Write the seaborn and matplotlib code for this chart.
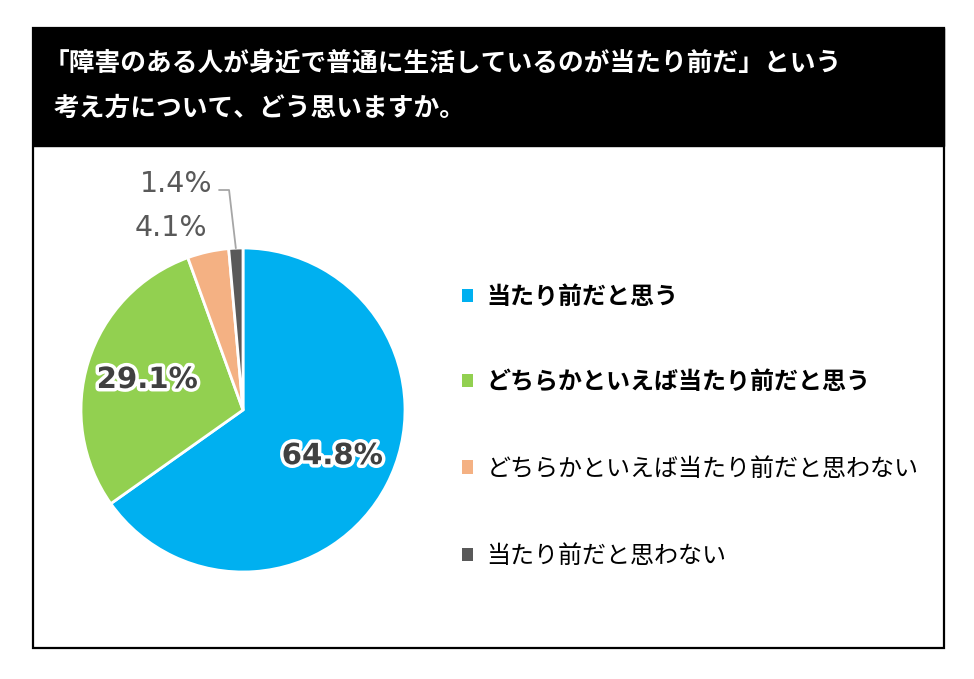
import numpy as np
import matplotlib
matplotlib.use("Agg")
import matplotlib.pyplot as plt
import matplotlib.patheffects as pe
import seaborn as sns
from matplotlib.patches import Rectangle

# ---- data ----
categories = ["当たり前だと思う", "どちらかといえば当たり前だと思う",
              "どちらかといえば当たり前だと思わない", "当たり前だと思わない"]
values = [64.8, 29.1, 4.1, 1.4]
bold_legend = [True, True, False, False]
title_lines = ["「障害のある人が身近で普通に生活しているのが当たり前だ」という",
               "考え方について、どう思いますか。"]

colors = ["#00B0F0", "#92D050", "#F4B183", "#595959"]

sns.set_theme(style="white")
plt.rcParams['font.family'] = ['Noto Sans CJK JP', 'DejaVu Sans']

W, H = 974, 679
fig = plt.figure(figsize=(W / 100, H / 100), dpi=100)
fig.patch.set_facecolor("white")

def fx(px):
    return px / W

def fy(py):
    return 1 - py / H

# frame + header
fig.patches.append(Rectangle((fx(33), fy(146)), fx(944) - fx(33), fy(28) - fy(146),
                             transform=fig.transFigure, facecolor="black",
                             edgecolor="black", zorder=0))
fig.patches.append(Rectangle((fx(33), fy(648)), fx(944) - fx(33), fy(28) - fy(648),
                             transform=fig.transFigure, facecolor="none",
                             edgecolor="black", linewidth=1.6, zorder=5))
fig.text(fx(44), fy(63), title_lines[0], color="white", fontsize=18.5,
         fontweight="bold", ha="left", va="center")
fig.text(fx(54), fy(108), title_lines[1], color="white", fontsize=18.5,
         fontweight="bold", ha="left", va="center")

# pie
cx, cy, r = 243, 410, 162
ax = fig.add_axes([fx(cx - r), fy(cy + r), 2 * r / W, 2 * r / H])
wedges, _ = ax.pie(values, colors=colors, startangle=90, counterclock=False,
                   radius=1, wedgeprops=dict(edgecolor="white", linewidth=2))
ax.set_xlim(-1, 1)
ax.set_ylim(-1, 1)
ax.axis("off")

glow = [pe.withStroke(linewidth=5, foreground="white")]
for i, w in enumerate(wedges[:2]):
    ang = np.deg2rad((w.theta1 + w.theta2) / 2)
    d = 0.62
    ax.text(d * np.cos(ang), d * np.sin(ang), f"{values[i]:.1f}%",
            ha="center", va="center", fontsize=21, fontweight="bold",
            family="DejaVu Sans", color="#404040", path_effects=glow)

# small slice labels (outside)
small_pos = {2: (-0.444, 1.123), 3: (-0.41, 1.395)}
for i, (tx, ty) in small_pos.items():
    ax.text(tx, ty, f"{values[i]:.1f}%", ha="center", va="center",
            fontsize=20.5, family="DejaVu Sans", color="#595959", clip_on=False)
# leader line for 1.4%
w = wedges[3]
ang = np.deg2rad((w.theta1 + w.theta2) / 2)
ax.plot([-0.148, -0.086, np.cos(ang) * 1.0], [1.358, 1.358, np.sin(ang) * 1.0],
        color="#A6A6A6", lw=1.3, clip_on=False)

# legend
leg = fig.legend(wedges, categories, loc="upper left",
                 bbox_to_anchor=(fx(462), fy(285)), frameon=False,
                 fontsize=17.3, handlelength=0.47, handleheight=0.47,
                 handletextpad=0.55, labelspacing=2.55, borderaxespad=0,
                 borderpad=0)
for t, b in zip(leg.get_texts(), bold_legend):
    t.set_color("black")
    if b:
        t.set_fontweight("bold")
for h in leg.legend_handles:
    h.set_edgecolor("none")

fig.savefig("out.png", dpi=100, facecolor="white")
